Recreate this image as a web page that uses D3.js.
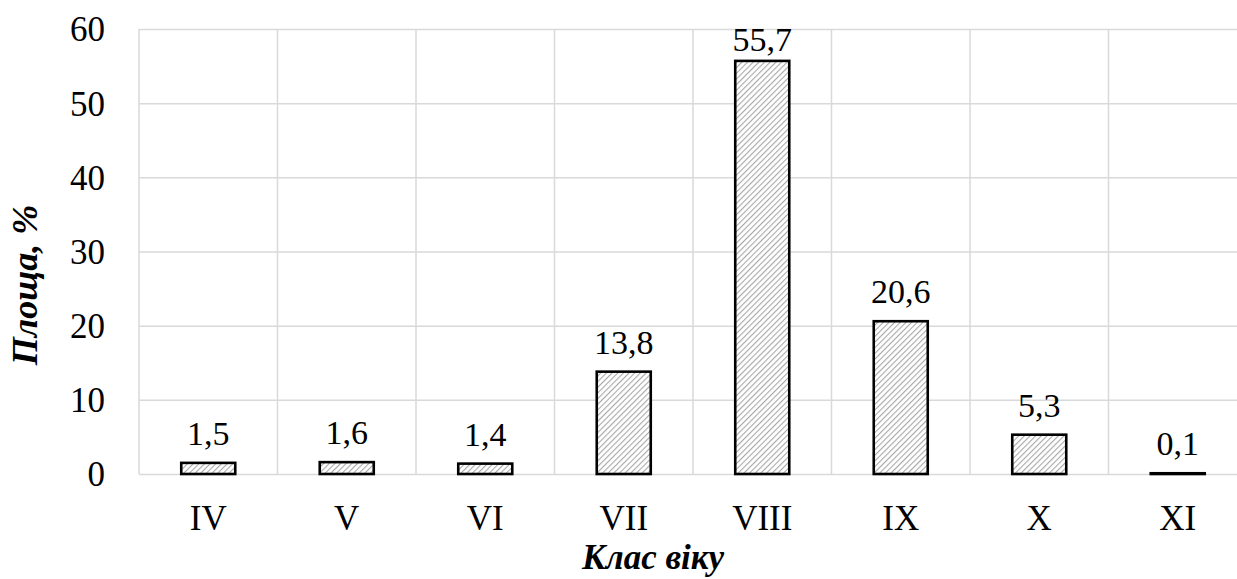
<!DOCTYPE html>
<html>
<head>
<meta charset="utf-8">
<script src="https://cdn.jsdelivr.net/npm/d3@7"></script>
<style>
  html, body { margin: 0; padding: 0; background: #fff; }
  svg { display: block; }
  text { font-family: "Liberation Serif", "Times New Roman", serif; fill: #000; }
</style>
</head>
<body>
<svg id="chart" width="1237" height="579"></svg>
<script>
const categories = ["IV", "V", "VI", "VII", "VIII", "IX", "X", "XI"];
const values = [1.5, 1.6, 1.4, 13.8, 55.7, 20.6, 5.3, 0.1];
const valueLabels = ["1,5", "1,6", "1,4", "13,8", "55,7", "20,6", "5,3", "0,1"];
const yTicks = [0, 10, 20, 30, 40, 50, 60];
const xTitle = "Клас віку";
const yTitle = "Площа, %";

const margin = { left: 139, right: 1247, top: 29, bottom: 474 };

const svg = d3.select("#chart");

const defs = svg.append("defs");
const pat = defs.append("pattern")
  .attr("id", "hatch")
  .attr("patternUnits", "userSpaceOnUse")
  .attr("width", 4).attr("height", 4)
  .attr("patternTransform", "rotate(45)");
pat.append("rect").attr("width", 4).attr("height", 4).attr("fill", "#fff");
pat.append("line").attr("x1", 0).attr("y1", 0).attr("x2", 0).attr("y2", 4)
  .attr("stroke", "#a8a8a8").attr("stroke-width", 2.2);

const x = d3.scaleBand().domain(categories).range([margin.left, margin.right]).padding(0);
const y = d3.scaleLinear().domain([0, 60]).range([margin.bottom, margin.top]);

// y axis with horizontal gridlines
const yAxis = svg.append("g")
  .attr("transform", `translate(${margin.left},0)`)
  .call(d3.axisLeft(y).tickValues(yTicks).tickSize(-(margin.right - margin.left)).tickPadding(34).tickFormat(d3.format("d")));
yAxis.select(".domain").remove();
yAxis.selectAll(".tick line").attr("stroke", "#d9d9d9").attr("stroke-width", 1.5);
yAxis.selectAll(".tick text").attr("font-size", 35).attr("dy", "0.34em");

// vertical gridlines at category boundaries
const bounds = categories.map(c => x(c)).concat([x(categories[categories.length - 1]) + x.bandwidth()]);
svg.append("g").selectAll("line").data(bounds).join("line")
  .attr("x1", d => d).attr("x2", d => d)
  .attr("y1", margin.top).attr("y2", margin.bottom)
  .attr("stroke", "#d9d9d9").attr("stroke-width", 1.5);

// x axis labels
const xAxis = svg.append("g")
  .attr("transform", `translate(0,${margin.bottom})`)
  .call(d3.axisBottom(x).tickSize(0).tickPadding(0));
xAxis.select(".domain").remove();
xAxis.selectAll(".tick text").attr("font-size", 35).attr("y", 56).attr("dy", 0);

// bars
const barW = x.bandwidth() * 0.39;
svg.append("g").selectAll("rect").data(values).join("rect")
  .attr("x", (d, i) => x(categories[i]) + (x.bandwidth() - barW) / 2)
  .attr("width", barW)
  .attr("y", d => y(d))
  .attr("height", d => y(0) - y(d))
  .attr("fill", "url(#hatch)")
  .attr("stroke", "#000")
  .attr("stroke-width", 2.6);

// value labels
svg.append("g").selectAll("text").data(values).join("text")
  .attr("x", (d, i) => x(categories[i]) + x.bandwidth() / 2)
  .attr("y", d => Math.max(y(d) - 18, 51))
  .attr("text-anchor", "middle")
  .attr("font-size", 34)
  .text((d, i) => valueLabels[i]);

// axis titles
svg.append("text")
  .attr("x", 653).attr("y", 569)
  .attr("text-anchor", "middle")
  .attr("font-size", 35).attr("font-weight", "bold").attr("font-style", "italic")
  .text(xTitle);

svg.append("text")
  .attr("transform", "translate(37,285) rotate(-90)")
  .attr("text-anchor", "middle")
  .attr("font-size", 36).attr("font-weight", "bold").attr("font-style", "italic")
  .text(yTitle);
</script>
</body>
</html>
